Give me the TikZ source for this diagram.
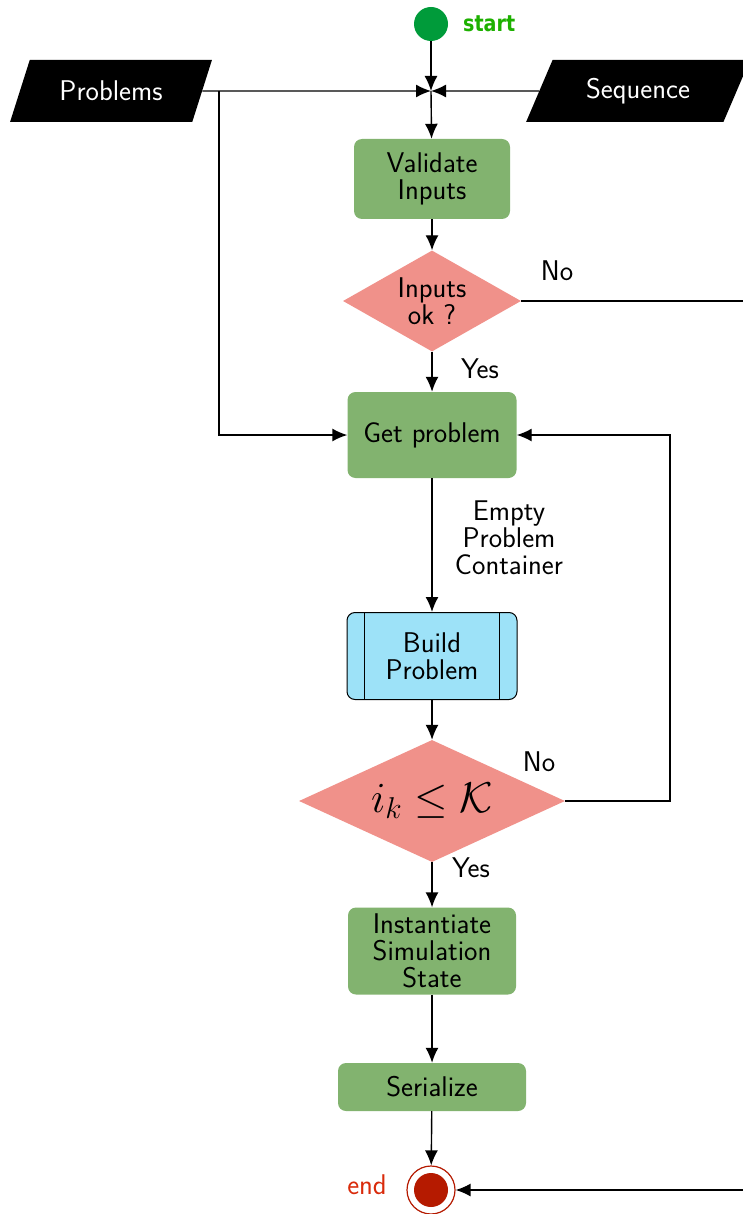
\RequirePackage{fix-cm}
\documentclass[tikz,border=0pt]{standalone}
\usepackage{fontspec}
\usetikzlibrary{shapes.geometric,arrows.meta}
\newfontfamily\startfont{DejaVu Sans}[FakeStretch=0.85]

\definecolor{procgreen}{HTML}{82B36F}
\definecolor{decisionred}{HTML}{F0918A}
\definecolor{subblue}{HTML}{9DE2F8}
\definecolor{startgreen}{HTML}{009B3A}
\definecolor{starttext}{HTML}{1DB000}
\definecolor{enddark}{HTML}{B51A00}
\definecolor{endtext}{HTML}{D92B0B}

\tikzset{
  proc/.style={rectangle, rounded corners=8pt, fill=procgreen, align=center, inner sep=0pt},
  decision/.style={diamond, fill=decisionred, inner sep=0pt},
  iobox/.style={trapezium, trapezium left angle=58, trapezium right angle=122,
    trapezium stretches=true, fill=black, text=white, inner sep=0pt},
  lbl/.style={align=center, inner sep=0pt},
  flow/.style={-{Latex[length=15pt,width=13pt]}, line width=1.4pt},
}

\begin{document}
\begin{tikzpicture}[x=1pt, y=-1pt, font=\sffamily\fontsize{28.5}{27}\selectfont]
\clip (0,0) rectangle (743,1214);

% start / inputs
\node[circle, fill=startgreen, minimum width=34, minimum height=34, inner sep=0pt] (start) at (431,24) {};
\node[lbl, text=starttext, anchor=west] (startlbl) at (463,24) {\startfont\bfseries\fontsize{22.5}{26}\selectfont start};
\node[iobox, minimum width=202, minimum height=62] (prob) at (111,91) {Problems};
\node[iobox, minimum width=224, minimum height=62] (seq) at (638,91) {Sequence};
\coordinate (join) at (431,91);
\coordinate (pbranch) at (219,91);

% main column
\node[proc, minimum width=156, minimum height=80] (valid) at (432,179) {Validate\\Inputs};
\node[decision, minimum width=178, minimum height=101,
      label={[lbl]center:Inputs\\ok ?}] (ok) at (432,301) {};
\node[proc, minimum width=169, minimum height=86] (getp) at (432,435) {Get problem};
\node[rectangle, rounded corners=8pt, fill=subblue, draw=black, line width=1pt,
      minimum width=170, minimum height=87, align=center, inner sep=0pt] (build) at (432,656) {Build\\Problem};
\draw[line width=1pt] ([xshift=18pt]build.north west) -- ([xshift=18pt]build.south west);
\draw[line width=1pt] ([xshift=-18pt]build.north east) -- ([xshift=-18pt]build.south east);
\node[decision, minimum width=266, minimum height=122,
      label={[lbl, font=\fontsize{43}{50}\selectfont]center:$i_k \le \mathcal{K}$}] (cond) at (432,801) {};
\node[proc, minimum width=168, minimum height=87] (inst) at (432,951) {Instantiate\\Simulation\\State};
\node[proc, minimum width=188, minimum height=48] (ser) at (432,1087) {Serialize};
\node[circle, draw=enddark, fill=white, line width=1.2pt, minimum width=48, minimum height=48, inner sep=0pt] (end) at (431,1190) {};
\fill[enddark] (end.center) circle[radius=17];
\node[lbl, text=endtext] (endlbl) at (367,1185) {end};

% labels
\node[lbl] (nolbl1) at (557,271) {No};
\node[lbl] (yeslbl1) at (480,369) {Yes};
\node[lbl] (emptylbl) at (509,538) {Empty\\Problem\\Container};
\node[lbl] (nolbl2) at (539,762) {No};
\node[lbl] (yeslbl2) at (471,868) {Yes};

\coordinate (offright) at (790,301);
\coordinate (loop) at (670,801);

% connectors
\draw[flow] (start) -- (join);
\draw[flow] (prob.east) -- (join);
\draw[flow] (seq.west) -- (join);
\draw[flow] (join) -- (valid);
\draw[flow] (valid) -- (ok);
\draw[flow] (ok) -- (getp);
\draw[flow] (pbranch) |- (getp.west);
\draw[flow] (getp) -- (build);
\draw[flow] (build) -- (cond);
\draw[flow] (cond.east) -- (loop) |- (getp.east);
\draw[flow] (cond) -- (inst);
\draw[flow] (inst) -- (ser);
\draw[flow] (ser) -- (end);
\draw[flow] (ok.east) -- (offright) |- (end.east);
\end{tikzpicture}
\end{document}
